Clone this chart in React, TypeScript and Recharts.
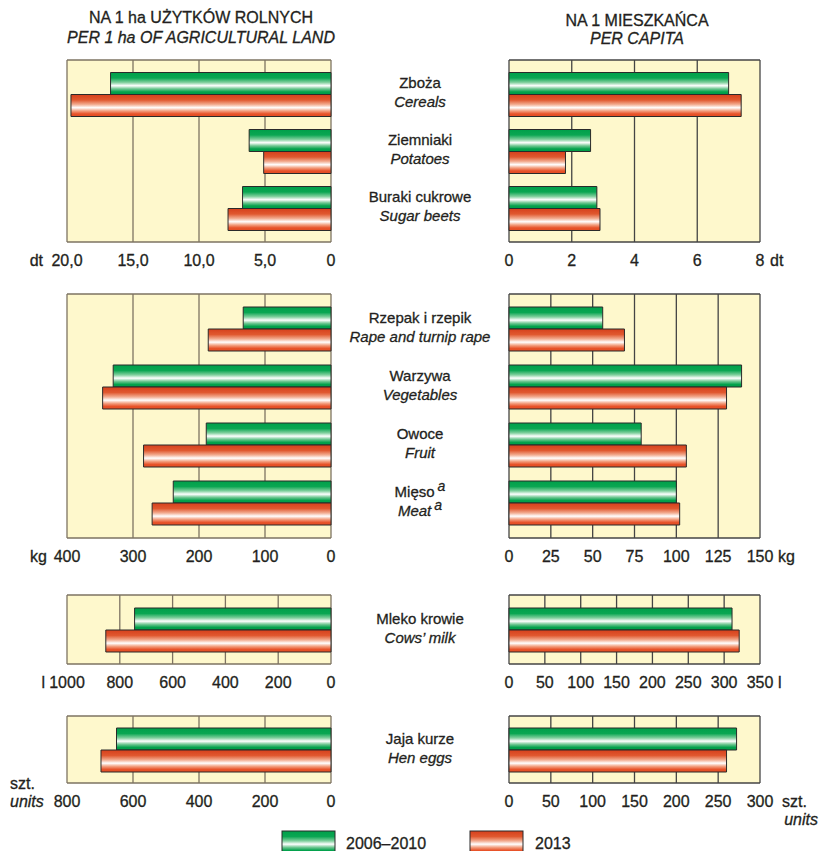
import { Bar, BarChart, CartesianGrid, XAxis, YAxis } from 'recharts'

// crops (dt)
const cropPl = ['Zboża', 'Ziemniaki', 'Buraki cukrowe']
const cropEn = ['Cereals', 'Potatoes', 'Sugar beets']
const cropPerHa0610 = [16.7, 6.2, 6.7]
const cropPerHa2013 = [19.7, 5.1, 7.8]
const cropPerCap0610 = [7.0, 2.6, 2.8]
const cropPerCap2013 = [7.4, 1.8, 2.9]

// other products (kg)
const foodPl = ['Rzepak i rzepik', 'Warzywa', 'Owoce', 'Mięso']
const foodEn = ['Rape and turnip rape', 'Vegetables', 'Fruit', 'Meat']
const foodNote = ['', '', '', 'a']
const foodPerHa0610 = [133, 330, 189, 239]
const foodPerHa2013 = [186, 346, 284, 271]
const foodPerCap0610 = [56, 139, 79, 100]
const foodPerCap2013 = [69, 130, 106, 102]

// milk (l)
const milkPl = ['Mleko krowie']
const milkEn = ['Cows’ milk']
const milkPerHa0610 = [744]
const milkPerHa2013 = [853]
const milkPerCap0610 = [311]
const milkPerCap2013 = [321]

// eggs (units)
const eggsPl = ['Jaja kurze']
const eggsEn = ['Hen eggs']
const eggsPerHa0610 = [650]
const eggsPerHa2013 = [697]
const eggsPerCap0610 = [272]
const eggsPerCap2013 = [260]

const cropHaTicks = [0, 5, 10, 15, 20]
const cropCapTicks = [0, 2, 4, 6, 8]
const foodHaTicks = [0, 100, 200, 300, 400]
const foodCapTicks = [0, 25, 50, 75, 100, 125, 150]
const milkHaTicks = [0, 200, 400, 600, 800, 1000]
const milkCapTicks = [0, 50, 100, 150, 200, 250, 300, 350]
const eggsHaTicks = [0, 200, 400, 600, 800]
const eggsCapTicks = [0, 50, 100, 150, 200, 250, 300]

const seriesNames = ['2006–2010', '2013']

const FONT = '"Liberation Sans", Arial, Helvetica, sans-serif'
const INK = '#231f20'
const PANEL_BG = '#fef8cc'
// slight stroke so the text looks as heavy as in the printed original
const txt = { fill: INK, stroke: INK, strokeWidth: 0.3, fontFamily: FONT }

type Extra = { text: string; dx: number; dy: number; anchor: 'start' | 'end' | 'middle'; italic?: boolean }

function makeRows(pl: string[], en: string[], a: number[], b: number[], note?: string[]) {
  return pl.map((p, i) => ({ name: p, pl: p, en: en[i], note: note ? note[i] : '', v1: a[i], v2: b[i] }))
}

function makeXTick(max: number, fmt: (v: number) => string, extras: Extra[]) {
  return (props: any) => {
    const { x, y, payload } = props
    const v = payload.value
    return (
      <g {...txt} fontSize={16}>
        <text x={x} y={y + 24} textAnchor="middle">
          {fmt(v)}
        </text>
        {v === max &&
          extras.map((e, i) => (
            <text key={i} x={x + e.dx} y={y + e.dy} textAnchor={e.anchor} fontStyle={e.italic ? 'italic' : 'normal'}>
              {e.text}
            </text>
          ))}
      </g>
    )
  }
}

// category labels drawn between the two panels, centred on page x = 420
function makeCatTick(rows: any[], centerX: number) {
  return (props: any) => {
    const { y, payload } = props
    const row = rows.find((r) => r.name === payload.value)
    if (!row) return null
    return (
      <g {...txt} fontSize={15}>
        <text x={centerX} y={y - 6} textAnchor="middle">
          {row.pl}
          {row.note && (
            <tspan dx={3} dy={-6} fontStyle="italic" fontSize={14}>
              {row.note}
            </tspan>
          )}
        </text>
        <text x={centerX} y={y + 13} textAnchor="middle" fontStyle="italic">
          {row.en}
          {row.note && (
            <tspan dx={3} dy={-6} fontSize={14}>
              {row.note}
            </tspan>
          )}
        </text>
      </g>
    )
  }
}

function Gradients() {
  return (
    <defs>
      <linearGradient id="gGreen" x1="0" y1="0" x2="0" y2="1">
        <stop offset="0%" stopColor="#00a04a" />
        <stop offset="25%" stopColor="#0aa652" />
        <stop offset="45%" stopColor="#7fcf9c" />
        <stop offset="60%" stopColor="#ffffff" />
        <stop offset="74%" stopColor="#72c893" />
        <stop offset="88%" stopColor="#04a24d" />
        <stop offset="100%" stopColor="#009a46" />
      </linearGradient>
      <linearGradient id="gRed" x1="0" y1="0" x2="0" y2="1">
        <stop offset="0%" stopColor="#d6401c" />
        <stop offset="25%" stopColor="#e0582f" />
        <stop offset="45%" stopColor="#f2ab8f" />
        <stop offset="60%" stopColor="#ffffff" />
        <stop offset="74%" stopColor="#f3a283" />
        <stop offset="88%" stopColor="#e8532a" />
        <stop offset="100%" stopColor="#e24c22" />
      </linearGradient>
    </defs>
  )
}

interface PanelProps {
  side: 'left' | 'right'
  rows: any[]
  ticks: number[]
  fmt: (v: number) => string
  extras: Extra[]
  top: number
  plotH: number
  pad: number
}

// top and bottom frame of the plot area
const frameLines = (p: any) => [p.offset.top, p.offset.top + p.offset.height]

function Panel({ side, rows, ticks, fmt, extras, top, plotH, pad }: PanelProps) {
  const max = ticks[ticks.length - 1]
  const left = side === 'left' ? 0 : 340
  const width = side === 'left' ? 340 : 481
  const axisH = 52
  const height = 10 + plotH + axisH
  const gridColor = side === 'left' ? '#7d7362' : '#444'
  return (
    <div style={{ position: 'absolute', left, top: top - 10 }}>
      <BarChart
        width={width}
        height={height}
        data={rows}
        layout="vertical"
        barSize={22}
        barGap={0}
        margin={side === 'left' ? { top: 10, right: 9, bottom: 0, left: 67 } : { top: 10, right: 61, bottom: 0, left: 0 }}
        style={{ overflow: 'visible' }}
      >
        <Gradients />
        <CartesianGrid
          stroke={gridColor}
          strokeWidth={1.3}
          fill={PANEL_BG}
          fillOpacity={1}
          horizontalCoordinatesGenerator={frameLines}
        />
        <XAxis
          type="number"
          domain={[0, max]}
          ticks={ticks}
          reversed={side === 'left'}
          height={axisH}
          axisLine={false}
          tickLine={false}
          tickSize={0}
          tickMargin={0}
          interval={0}
          tick={makeXTick(max, fmt, extras)}
        />
        <YAxis
          type="category"
          dataKey="name"
          hide={side === 'left'}
          width={side === 'left' ? 0 : 169}
          axisLine={false}
          tickLine={false}
          padding={{ top: pad, bottom: pad }}
          tick={makeCatTick(rows, 80)}
        />
        <Bar dataKey="v1" name={seriesNames[0]} fill="url(#gGreen)" stroke="#2a2a2a" strokeWidth={1} isAnimationActive={false} />
        <Bar dataKey="v2" name={seriesNames[1]} fill="url(#gRed)" stroke="#2a2a2a" strokeWidth={1} isAnimationActive={false} />
      </BarChart>
    </div>
  )
}

const intFmt = (v: number) => String(v)
const dtFmt = (v: number) => (v === 0 ? '0' : v.toFixed(1).replace('.', ','))

export default function App() {
  const cropHa = makeRows(cropPl, cropEn, cropPerHa0610, cropPerHa2013)
  const cropCap = makeRows(cropPl, cropEn, cropPerCap0610, cropPerCap2013)
  const foodHa = makeRows(foodPl, foodEn, foodPerHa0610, foodPerHa2013, foodNote)
  const foodCap = makeRows(foodPl, foodEn, foodPerCap0610, foodPerCap2013, foodNote)
  const milkHa = makeRows(milkPl, milkEn, milkPerHa0610, milkPerHa2013)
  const milkCap = makeRows(milkPl, milkEn, milkPerCap0610, milkPerCap2013)
  const eggsHa = makeRows(eggsPl, eggsEn, eggsPerHa0610, eggsPerHa2013)
  const eggsCap = makeRows(eggsPl, eggsEn, eggsPerCap0610, eggsPerCap2013)

  return (
    <div style={{ position: 'absolute', left: 0, top: 0, width: 821, height: 851, background: '#fff', overflow: 'hidden', fontFamily: FONT }}>
      <svg width={821} height={851} style={{ position: 'absolute', left: 0, top: 0 }}>
        <Gradients />
        <g {...txt} fontSize={16} textAnchor="middle">
          <text x={201} y={23}>NA 1 ha UŻYTKÓW ROLNYCH</text>
          <text x={201} y={43} fontStyle="italic">PER 1 ha OF AGRICULTURAL LAND</text>
          <text x={637} y={26}>NA 1 MIESZKAŃCA</text>
          <text x={637} y={44} fontStyle="italic">PER CAPITA</text>
        </g>
        <rect x={282} y={831} width={53} height={22} fill="url(#gGreen)" stroke="#2a2a2a" />
        <rect x={470} y={831} width={53} height={22} fill="url(#gRed)" stroke="#2a2a2a" />
        <g {...txt} fontSize={16}>
          <text x={346} y={849}>{seriesNames[0]}</text>
          <text x={535} y={849}>{seriesNames[1]}</text>
        </g>
      </svg>

      <Panel side="left" rows={cropHa} ticks={cropHaTicks} fmt={dtFmt} top={60} plotH={182} pad={5.5}
        extras={[{ text: 'dt', dx: -24, dy: 24, anchor: 'end' }]} />
      <Panel side="right" rows={cropCap} ticks={cropCapTicks} fmt={intFmt} top={60} plotH={182} pad={5.5}
        extras={[{ text: 'dt', dx: 10, dy: 24, anchor: 'start' }]} />

      <Panel side="left" rows={foodHa} ticks={foodHaTicks} fmt={intFmt} top={294} plotH={244} pad={6}
        extras={[{ text: 'kg', dx: -20, dy: 24, anchor: 'end' }]} />
      <Panel side="right" rows={foodCap} ticks={foodCapTicks} fmt={intFmt} top={294} plotH={244} pad={6}
        extras={[{ text: 'kg', dx: 18, dy: 24, anchor: 'start' }]} />

      <Panel side="left" rows={milkHa} ticks={milkHaTicks} fmt={intFmt} top={595} plotH={69} pad={0}
        extras={[{ text: 'l', dx: -22, dy: 24, anchor: 'end' }]} />
      <Panel side="right" rows={milkCap} ticks={milkCapTicks} fmt={intFmt} top={595} plotH={69} pad={0}
        extras={[{ text: 'l', dx: 18, dy: 24, anchor: 'start' }]} />

      <Panel side="left" rows={eggsHa} ticks={eggsHaTicks} fmt={intFmt} top={716} plotH={67} pad={0}
        extras={[
          { text: 'szt.', dx: -57, dy: 6, anchor: 'start' },
          { text: 'units', dx: -57, dy: 24, anchor: 'start', italic: true },
        ]} />
      <Panel side="right" rows={eggsCap} ticks={eggsCapTicks} fmt={intFmt} top={716} plotH={67} pad={0}
        extras={[
          { text: 'szt.', dx: 22, dy: 24, anchor: 'start' },
          { text: 'units', dx: 58, dy: 42, anchor: 'end', italic: true },
        ]} />
    </div>
  )
}
